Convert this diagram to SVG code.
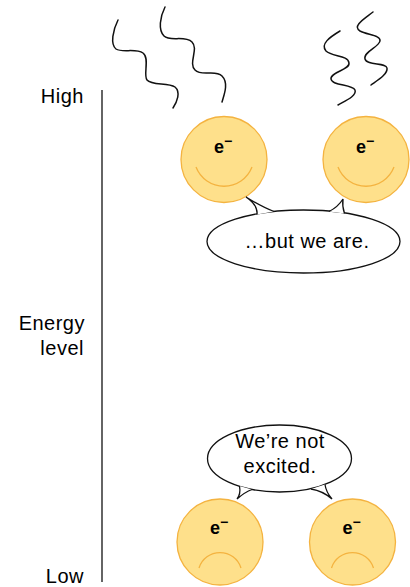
<svg xmlns="http://www.w3.org/2000/svg" width="410" height="587" viewBox="0 0 410 587">
  <style>
    .lbl { font-family: "Liberation Sans", Arial, sans-serif; font-size: 20px; letter-spacing: 0.5px; fill: #000; }
    .ax { text-anchor: end; }
    .mid { text-anchor: middle; }
    .face { fill: #FEE08B; stroke: #F4B340; stroke-width: 1.3; }
    .mouth { fill: none; stroke: #F4B340; stroke-width: 1.3; }
    .sym { font-family: "Liberation Sans", Arial, sans-serif; font-weight: bold; font-size: 18px; text-anchor: middle; fill: #000; }
    .bubble { fill: #fff; stroke: #111; stroke-width: 1.3; }
    .wave { fill: none; stroke: #111; stroke-width: 1.5; stroke-linecap: round; }
  </style>

  <!-- energy axis -->
  <g id="axis">
    <line x1="102" y1="90" x2="102" y2="582" stroke="#111" stroke-width="1.3"/>
    <text class="lbl ax" x="84" y="103">High</text>
    <text class="lbl ax" x="85" y="330">Energy</text>
    <text class="lbl ax" x="84" y="355">level</text>
    <text class="lbl ax" x="84" y="583">Low</text>
  </g>

  <!-- emitted light waves -->
  <g id="waves">
    <path class="wave" d="M118,20 C113,30 110,44 116,49 C122,53 136,48 143,53 C150,58 143,75 147,80 C152,86 168,82 175,87 C181,92 177,102 173,108"/>
    <path class="wave" d="M165,7 C160,17 158,30 164,36 C170,42 185,35 192,42 C199,49 188,63 195,70 C202,77 215,69 222,76 C229,83 224,95 222,102"/>
    <path class="wave" d="M340,31 C330,37 320,44 326,51 C332,57 348,55 349,63 C350,70 330,72 331,79 C332,86 352,84 355,90 C357,96 345,101 338,105"/>
    <path class="wave" d="M373,12 C364,19 352,26 360,31 C367,35 381,35 380,41 C379,47 363,52 365,59 C367,66 386,62 387,68 C388,74 378,80 371,85"/>
  </g>

  <!-- excited electrons -->
  <g id="electron-high-1">
    <circle class="face" cx="224" cy="159.5" r="43"/>
    <path class="mouth" d="M196,167 A30,30 0 0 0 252,167"/>
    <text class="sym" x="223" y="152.5">e<tspan dy="-7" font-size="14">−</tspan></text>
  </g>
  <g id="electron-high-2">
    <circle class="face" cx="366" cy="159.5" r="43"/>
    <path class="mouth" d="M338,167 A30,30 0 0 0 394,167"/>
    <text class="sym" x="365" y="152.5">e<tspan dy="-7" font-size="14">−</tspan></text>
  </g>

  <g id="bubble-high">
    <ellipse class="bubble" cx="303.5" cy="241.5" rx="96.5" ry="31.5"/>
    <path class="bubble" d="M257,214.5 Q258,205 246,197 Q262,207 274,211.5"/>
    <path class="bubble" d="M329,211.5 Q338,207 343,199 Q342,206 344.5,213.5"/>
    <text class="lbl mid" x="307" y="248">…but we are.</text>
  </g>

  <!-- ground-state electrons -->
  <g id="electron-low-1">
    <circle class="face" cx="220" cy="542" r="43"/>
    <path class="mouth" d="M199,568 A22,22 0 0 1 241,568"/>
    <text class="sym" x="219" y="534">e<tspan dy="-7" font-size="14">−</tspan></text>
  </g>
  <g id="electron-low-2">
    <circle class="face" cx="352.5" cy="542" r="43"/>
    <path class="mouth" d="M331.5,568 A22,22 0 0 1 373.5,568"/>
    <text class="sym" x="351.5" y="534">e<tspan dy="-7" font-size="14">−</tspan></text>
  </g>

  <g id="bubble-low">
    <ellipse class="bubble" cx="279.5" cy="458.5" rx="72" ry="33.5"/>
    <path class="bubble" d="M239.5,486 Q241,494 237,499 Q245,492 252,489.5"/>
    <path class="bubble" d="M311,489 Q323,491 332,499 Q326,492 325,484.5"/>
    <text class="lbl mid" x="280" y="448">We’re not</text>
    <text class="lbl mid" x="280" y="473">excited.</text>
  </g>
</svg>
